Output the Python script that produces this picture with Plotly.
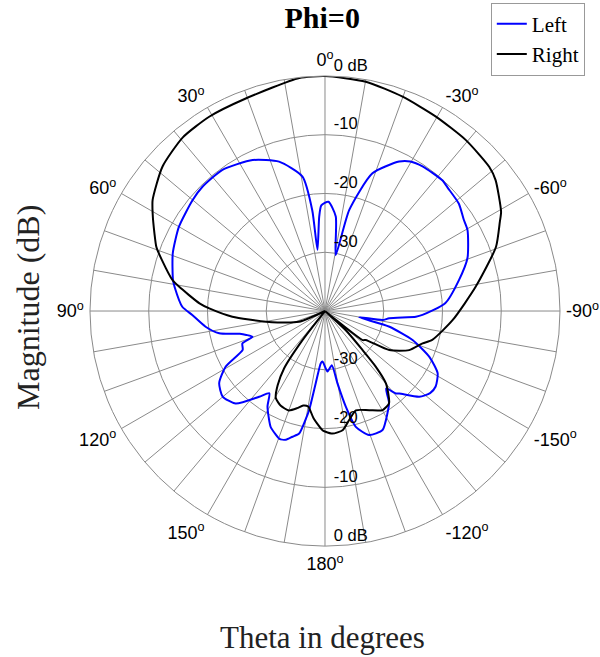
import plotly.graph_objects as go

# ---- data (theta in degrees, 0 = top, positive = counter-clockwise) ----
left_theta = [-177.6, -172.8, -170.2, -167.7, -165.1, -160.4, -154.2, -148.6, -145.0, -141.7,
              -139.3, -138.0, -132.3, -128.0, -124.3, -118.9, -113.7, -108.3, -103.7, -100.3,
              -98.9, -96.5, -93.6, -92.3, -86.3, -77.0, -69.5, -60.4, -56.5, -51.3,
              -45.0, -41.9, -34.0, -29.7, -26.4, -19.0, -13.5, -10.8, -6.5, -1.8,
              2.0, 3.5, 7.0, 7.2, 9.5, 17.1, 25.6, 36.0, 44.6, 50.0,
              60.0, 69.3, 78.5, 81.0, 88.3, 91.7, 97.5, 101.9, 105.0, 106.9,
              109.5, 111.4, 115.3, 119.3, 124.3, 129.9, 136.0, 142.5, 145.9, 149.0,
              154.9, 158.1, 160.4, 163.1, 165.5, 168.1, 169.7, 170.9, 172.7, 175.4,
              177.2, 182.4]
left_db = [-29.7, -30.7, -27.5, -23.3, -19.6, -17.6, -17.5, -19.6, -21.0, -23.2,
           -21.5, -21.1, -18.3, -17.3, -17.2, -18.1, -20.6, -24.3, -28.7, -34.1,
           -30.1, -29.0, -24.5, -23.4, -19.5, -16.6, -14.1, -12.1, -11.7, -10.8,
           -10.4, -10.1, -10.3, -10.7, -11.6, -15.2, -22.3, -30.3, -23.8, -21.4,
           -22.0, -23.9, -29.5, -22.7, -16.8, -13.4, -11.5, -10.3, -10.3, -10.6,
           -11.3, -12.3, -13.6, -14.1, -15.7, -17.4, -19.5, -21.6, -25.0, -26.0,
           -26.9, -24.9, -24.5, -20.6, -18.2, -17.3, -18.1, -21.6, -23.1, -21.0,
           -18.2, -17.4, -16.9, -17.1, -17.9, -18.7, -21.0, -22.9, -27.6, -31.1,
           -31.4, -29.7]

right_theta = [-180.0, -176.5, -171.6, -167.5, -162.7, -155.9, -149.8, -145.2, -139.9, -137.6,
               -136.1, -133.0, -131.0, -129.0, -127.7, -125.4, -121.3, -114.9, -108.3, -105.1,
               -94.0, -80.8, -69.4, -63.0, -60.6, -52.5, -48.7, -39.5, -29.7, -19.9,
               -10.1, 0.0, 6.3, 20.6, 30.8, 39.3, 48.4, 57.2, 60.5, 65.5,
               69.2, 72.6, 78.5, 80.5, 86.5, 88.7, 93.5, 100.2, 112.5, 118.0,
               140.0, 142.2, 144.5, 147.5, 150.5, 155.0, 160.0, 164.0, 167.0, 170.0,
               174.0, 178.8, 180.0]
right_db = [-19.5, -19.1, -19.5, -21.0, -22.3, -21.5, -20.5, -20.9, -23.9, -27.2,
            -30.8, -35.0, -40.0, -38.0, -31.9, -31.5, -27.2, -24.2, -22.5, -21.1,
            -18.2, -14.0, -8.9, -6.6, -5.6, -3.4, -2.8, -2.3, -1.9, -1.2,
            -0.35, 0.0, -0.1, -1.4, -1.5, -1.8, -3.0, -5.1, -6.3, -8.1,
            -9.3, -10.9, -13.5, -14.8, -18.6, -20.3, -24.2, -29.8, -35.2, -40.0,
            -40.0, -33.8, -28.0, -25.0, -23.0, -22.2, -22.0, -22.8, -23.5, -23.5,
            -21.6, -19.7, -19.5]

angle_ticks = list(range(0, 360, 10))
angle_labels = {0: "0", 30: "30", 60: "60", 90: "90", 120: "120", 150: "150",
                180: "180", 210: "-120", 240: "-150", 270: "-90", 300: "-60", 330: "-30"}
radial_vals = [-30, -20, -10, 0]
radial_text = ["-30", "-20", "-10", "0 dB"]

ticktext = [(angle_labels[a] + "<sup>o</sup>") if a in angle_labels else "" for a in angle_ticks]
# labels sit just above their ring, as in the reference (empty second line lifts them)
radial_ticktext = [t + "<br>&nbsp;" for t in radial_text]

GRID = "#8a8a8a"
SANS = "Liberation Sans"
SERIF = "Liberation Serif"

fig = go.Figure()
fig.add_trace(go.Scatterpolar(r=left_db, theta=left_theta, mode="lines", name="Left",
                              line=dict(color="#0000ff", width=2, shape="spline", smoothing=0.6),
                              subplot="polar"))
fig.add_trace(go.Scatterpolar(r=right_db, theta=right_theta, mode="lines", name="Right",
                              line=dict(color="#000000", width=2, shape="spline", smoothing=0.6),
                              subplot="polar"))
fig.add_trace(go.Scatterpolar(r=[None], theta=[None], mode="lines", showlegend=False,
                              hoverinfo="skip", subplot="polar2"))

dom_x = [0.1458, 0.9375]
dom_y = [0.1689, 0.8843]

fig.update_layout(
    width=600, height=657,
    margin=dict(l=0, r=0, t=0, b=0),
    paper_bgcolor="white",
    polar=dict(
        domain=dict(x=dom_x, y=dom_y),
        bgcolor="white",
        angularaxis=dict(rotation=90, direction="counterclockwise",
                         tickmode="array", tickvals=angle_ticks, ticktext=ticktext,
                         showgrid=True, gridcolor=GRID, gridwidth=1,
                         showline=True, linecolor=GRID, linewidth=1,
                         ticks="outside", ticklen=2, tickcolor="rgba(0,0,0,0)",
                         tickfont=dict(family=SANS, size=18, color="black")),
        radialaxis=dict(range=[-40, 0], angle=90, tickangle=90, side="clockwise",
                        tickmode="array", tickvals=radial_vals, ticktext=radial_ticktext,
                        showgrid=True, gridcolor=GRID, gridwidth=1,
                        showline=False, ticks="outside", ticklen=5,
                        tickcolor="rgba(0,0,0,0)",
                        tickfont=dict(family=SANS, size=16.5, color="black")),
    ),
    polar2=dict(
        domain=dict(x=dom_x, y=dom_y),
        bgcolor="rgba(0,0,0,0)",
        angularaxis=dict(rotation=90, direction="counterclockwise", showgrid=False,
                         showline=False, showticklabels=False, ticks=""),
        radialaxis=dict(range=[-40, 0], angle=270, tickangle=-90, side="counterclockwise",
                        tickmode="array", tickvals=radial_vals, ticktext=radial_ticktext,
                        showgrid=False, showline=False, ticks="outside", ticklen=5,
                        tickcolor="rgba(0,0,0,0)",
                        tickfont=dict(family=SANS, size=16.5, color="black")),
    ),
    title=dict(text="<b>Phi=0</b>", x=0.537, xanchor="center", y=0.973, yanchor="middle",
               font=dict(family=SERIF, size=30, color="black")),
    legend=dict(x=0.818, xanchor="left", y=0.996, yanchor="top",
                bordercolor="#999999", borderwidth=1, bgcolor="white",
                font=dict(family=SERIF, size=21, color="black"),
                tracegroupgap=0, itemwidth=30),
    annotations=[
        dict(text="Magnitude (dB)", x=28 / 600, y=1 - 308 / 657, xref="paper", yref="paper",
             xanchor="center", yanchor="middle",
             textangle=-90, showarrow=False, font=dict(family=SERIF, size=32, color="#222")),
        dict(text="Theta in degrees", x=0.537, y=1 - 637 / 657, xref="paper", yref="paper",
             xanchor="center", yanchor="middle",
             showarrow=False, font=dict(family=SERIF, size=31, color="#222")),
    ],
)

fig.write_html("out.html")
